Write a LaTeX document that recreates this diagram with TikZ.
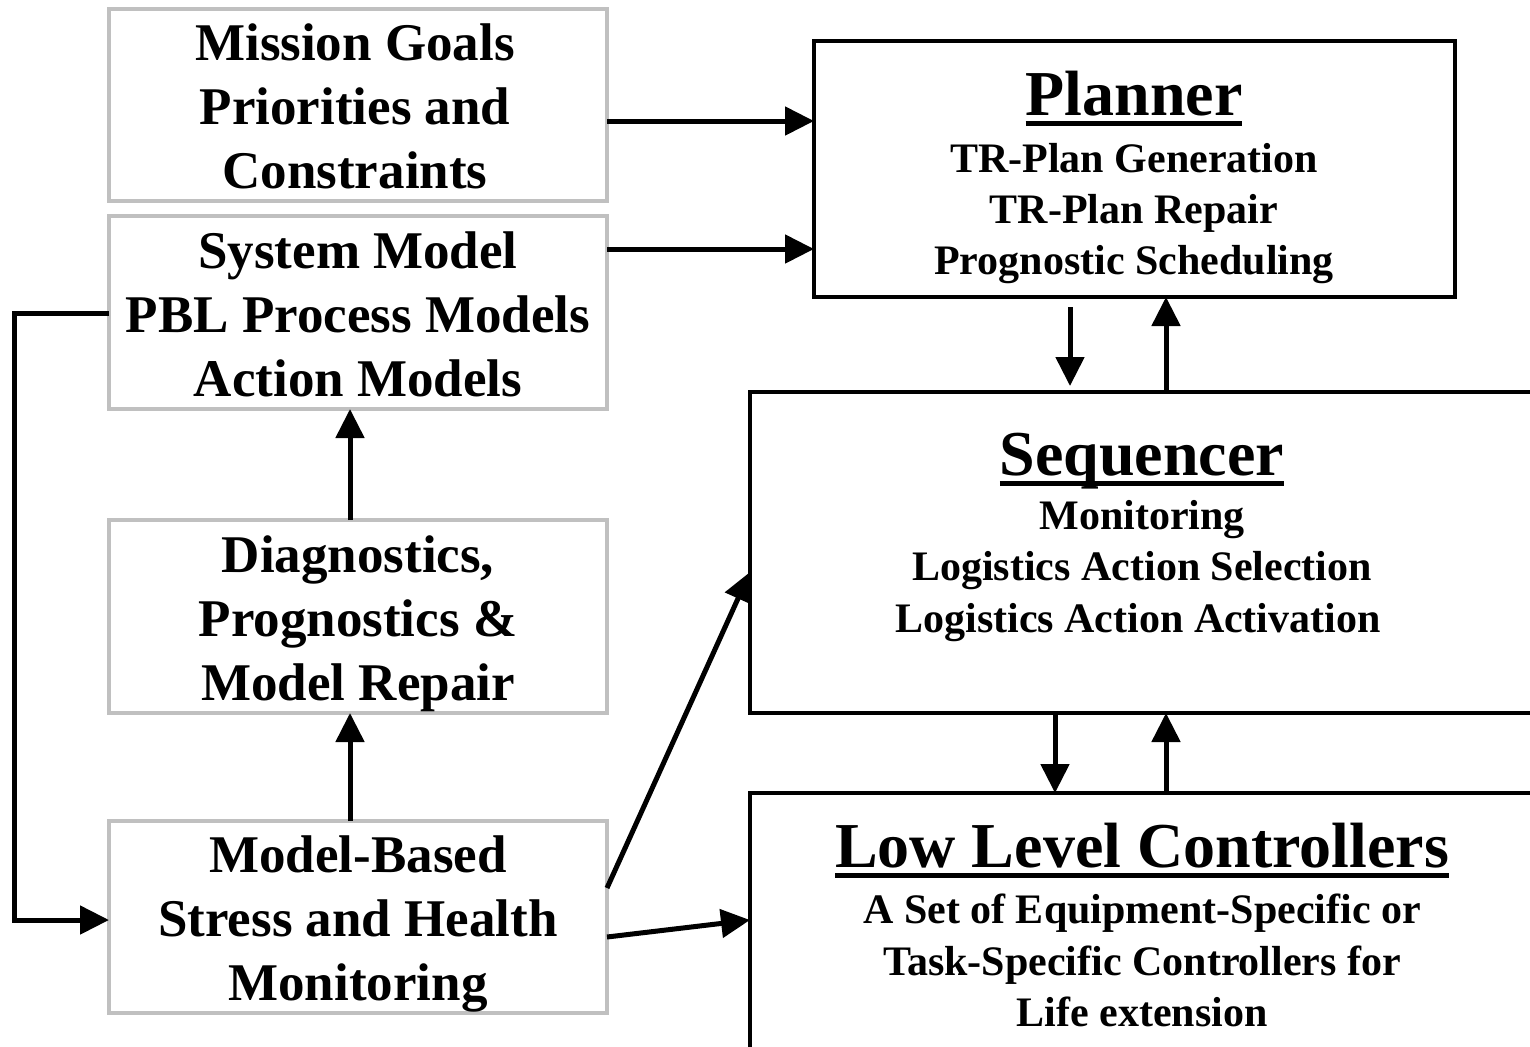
\documentclass[tikz,border=0pt]{standalone}
\usepackage{fontspec}
\setmainfont{Liberation Serif}
\usetikzlibrary{arrows.meta,calc}
\definecolor{boxgrey}{RGB}{192,192,192}
\newsavebox\ttlbox
% heavy underline for block titles
\newcommand\heavyul[1]{\sbox\ttlbox{#1}\leavevmode\rlap{\rule[-5.5pt]{\wd\ttlbox}{2.5pt}}\usebox\ttlbox}
\tikzset{
  greybox/.style={draw=boxgrey, line width=2pt, inner sep=0pt, outer sep=0pt, anchor=north west},
  blackbox/.style={draw=black, line width=2.25pt, inner sep=0pt, outer sep=0pt, anchor=north west},
  arr/.style={line width=2.5pt, -{Triangle[length=14.5pt,width=14pt]}},
  lefttxt/.style={font=\fontsize{26.5}{32}\selectfont\bfseries, align=center, inner sep=0pt},
  ttl/.style={font=\fontsize{32}{38}\selectfont\bfseries, anchor=base, inner sep=0pt},
  subtxt/.style={font=\fontsize{21}{25}\selectfont\bfseries, anchor=base, inner sep=0pt},
}
\begin{document}
\begin{tikzpicture}[x=0.5pt, y=-0.5pt]
\useasboundingbox (0,0) rectangle (1530,1046);
\clip (0,0) rectangle (1530,1046);
\fill[white] (0,0) rectangle (1530,1046);

% left column: model and monitoring blocks
\node[greybox, minimum width=249pt, minimum height=96pt]   (mg) at (109,9)   {};
\node[greybox, minimum width=249pt, minimum height=96.5pt] (sm) at (109,216) {};
\node[greybox, minimum width=249pt, minimum height=96.5pt] (dp) at (109,520) {};
\node[greybox, minimum width=249pt, minimum height=96pt]   (mb) at (109,821) {};

\node[lefttxt] (mgt) at (355,106) {Mission Goals\\Priorities and\\Constraints};
\node[lefttxt] (smt) at (358,314) {System Model\\PBL Process Models\\Action Models};
\node[lefttxt] (dpt) at (358,624) {Diagnostics,\\Prognostics \&\\Model Repair};
\node[lefttxt] (mbt) at (358,924) {Model-Based\\Stress and Health\\Monitoring};

% right column: the control hierarchy
\node[blackbox, minimum width=320.5pt, minimum height=128pt] (pl) at (814,41)  {};
\node[blackbox, minimum width=425pt,   minimum height=160.5pt] (sq) at (750,392) {};
\node[blackbox, minimum width=425pt,   minimum height=153.5pt] (lo) at (750,793) {};

\node[ttl]    (plt) at (1134,115) {\heavyul{Planner}};
\node[subtxt] (pl1) at (1134,172) {TR-Plan Generation};
\node[subtxt] (pl2) at (1134,223) {TR-Plan Repair};
\node[subtxt] (pl3) at (1134,274) {Prognostic Scheduling};

\node[ttl]    (sqt) at (1142,475) {\heavyul{Sequencer}};
\node[subtxt] (sq1) at (1142,529) {Monitoring};
\node[subtxt] (sq2) at (1142,580) {Logistics Action Selection};
\node[subtxt] (sq3) at (1138,632) {Logistics Action Activation};

\node[ttl]    (lot) at (1142,867) {\heavyul{Low Level Controllers}};
\node[subtxt] (lo1) at (1142,923) {A Set of Equipment-Specific or};
\node[subtxt] (lo2) at (1142,975) {Task-Specific Controllers for};
\node[subtxt] (lo3) at (1142,1026) {Life extension};

% reference rows and columns for the connectors
\coordinate (r1) at (0,121);
\coordinate (r2) at (0,249);
\coordinate (c1) at (350,0);
\coordinate (c2) at (1070,0);
\coordinate (c3) at (1166,0);
\coordinate (c4) at (1055,0);
\coordinate (fbA) at (14,313);
\coordinate (fbB) at (14,920);
\coordinate (dgA) at (0,888);
\coordinate (dgB) at (0,572);
\coordinate (lwA) at (0,937);
\coordinate (lwB) at (0,920);

% inputs to the planner
\draw[arr] (mg.east |- r1) -- (pl.west |- r1);
\draw[arr] (sm.east |- r2) -- (pl.west |- r2);

% planner <-> sequencer
\draw[arr] ([yshift=-5pt]pl.south -| c2) -- ([yshift=3pt]sq.north -| c2);
\draw[arr] (sq.north -| c3) -- (pl.south -| c3);

% sequencer <-> low level controllers
\draw[arr] (sq.south -| c4) -- (lo.north -| c4);
\draw[arr] (lo.north -| c3) -- (sq.south -| c3);

% left column flow
\draw[arr] (dp.north -| c1) -- (sm.south -| c1);
\draw[arr] (mb.north -| c1) -- (dp.south -| c1);

% model feedback loop
\draw[arr] (sm.west |- fbA) -- (fbA) -- (fbB) -- (mb.west |- fbB);

% monitoring outputs
\draw[arr] (mb.east |- dgA) -- (sq.west |- dgB);
\draw[arr] (mb.east |- lwA) -- (lo.west |- lwB);
\end{tikzpicture}
\end{document}
